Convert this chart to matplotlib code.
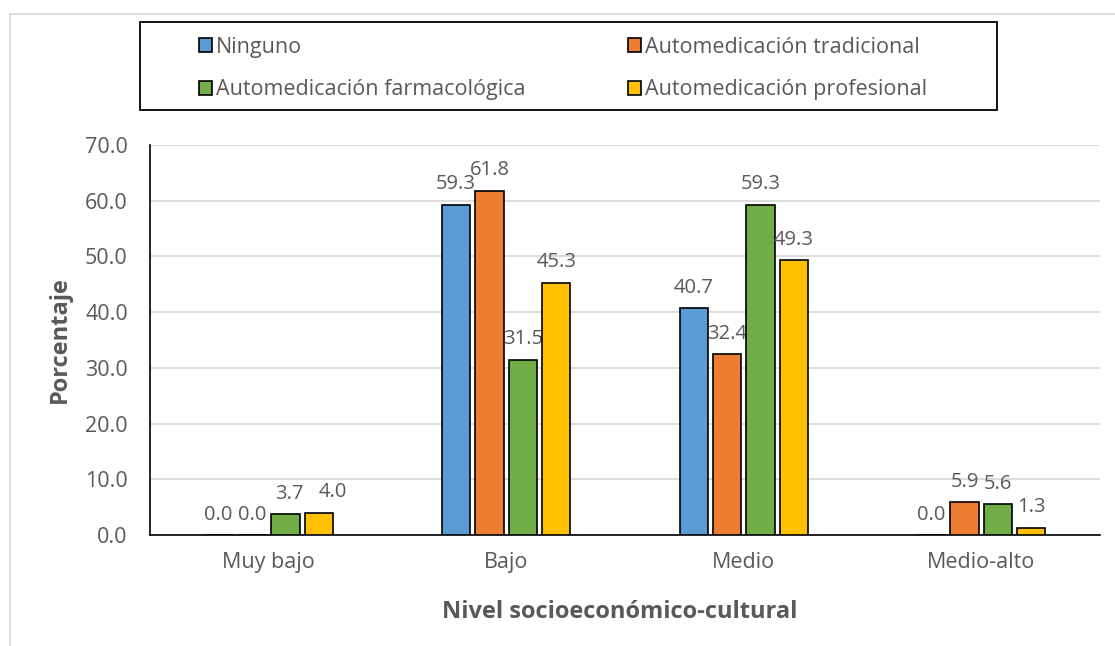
import numpy as np
import matplotlib
matplotlib.use('Agg')
import matplotlib.pyplot as plt
from matplotlib.patches import Rectangle
from matplotlib.lines import Line2D

plt.rcParams['font.family'] = ['Open Sans', 'DejaVu Sans']

# porcentaje por nivel socioeconomico-cultural y tipo de automedicacion
niveles = ['Muy bajo', 'Bajo', 'Medio', 'Medio-alto']
series = ['Ninguno', 'Automedicación tradicional',
          'Automedicación farmacológica', 'Automedicación profesional']
ninguno = [0.0, 59.3, 40.7, 0.0]
tradicional = [0.0, 61.8, 32.4, 5.9]
farmacologica = [3.7, 31.5, 59.3, 5.6]
profesional = [4.0, 45.3, 49.3, 1.3]
yticks = [0, 10, 20, 30, 40, 50, 60, 70]

colores = ['#5B9BD5', '#ED7D31', '#70AD47', '#FFC000']
gris = '#595959'

fig = plt.figure(figsize=(11.15, 6.46), dpi=100)
ax = fig.add_axes([150/1115, 111/646, 950/1115, 390/646])

x = np.arange(len(niveles))
paso = 0.141
ancho = 0.118
datos = [ninguno, tradicional, farmacologica, profesional]

# pequeños desplazamientos de etiquetas (en pixeles) para evitar solapes
ajuste = {(2, 0): 4, (3, 0): 14}

for k, (vals, col) in enumerate(zip(datos, colores)):
    pos = x + (k - 1.5)*paso
    ax.bar(pos, vals, width=ancho, color=col, edgecolor='black', linewidth=1.2, zorder=3)
    for i, v in enumerate(vals):
        dx = ajuste.get((k, i), 0)*0.72
        ax.annotate('%.1f' % v, (pos[i], v), xytext=(dx, 11), textcoords='offset points',
                    ha='center', va='baseline', fontsize=14.5, color=gris)

ax.set_ylim(0, 70)
ax.set_xlim(-0.5, 3.5)
ax.set_yticks(yticks)
ax.set_yticklabels(['%.1f' % t for t in yticks])
ax.set_xticks(x)
ax.set_xticklabels(niveles)
ax.tick_params(axis='both', length=0, labelsize=15.5, colors=gris)
ax.tick_params(axis='y', pad=16)
ax.tick_params(axis='x', pad=12)
ax.yaxis.grid(True, color='#D9D9D9', linewidth=1.3, zorder=0)
ax.set_axisbelow(True)
for s in ['top', 'right']:
    ax.spines[s].set_visible(False)
ax.spines['left'].set_color('black')
ax.spines['bottom'].set_color('black')
ax.spines['left'].set_linewidth(1.2)
ax.spines['bottom'].set_linewidth(1.2)

ax.set_ylabel('Porcentaje', fontsize=17, fontweight='bold', color=gris)
ax.set_xlabel('Nivel socioeconómico-cultural', fontsize=17, fontweight='bold', color=gris)
ax.yaxis.set_label_coords((72-150)/950, 0.5)
ax.xaxis.set_label_coords((620-150)/950, (535-600)/390)

# leyenda en dos columnas dentro de un recuadro
handles = [Rectangle((0, 0), 1, 1, facecolor=c, edgecolor='black', linewidth=1.2) for c in colores]
orden = [0, 2, 1, 3]
leg = fig.legend([handles[i] for i in orden], [series[i] for i in orden], ncol=2,
                 mode='expand', frameon=False, fontsize=15.5, labelcolor=gris,
                 handlelength=0.6, handleheight=0.6, handletextpad=0.2,
                 labelspacing=1.0, borderpad=0, borderaxespad=0,
                 bbox_to_anchor=(199/1115, 1 - 108.5/646, (927-199)/1115, 80/646),
                 loc='center', bbox_transform=fig.transFigure)
fig.patches.append(Rectangle((140/1115, 1 - 110/646), (997-140)/1115, 88/646,
                             transform=fig.transFigure, fill=False,
                             edgecolor='black', linewidth=1.3))

# marco exterior
fig.lines.append(Line2D([10/1115, 10/1115], [0, 1 - 14/646], transform=fig.transFigure,
                        color='#D9D9D9', linewidth=1.3))
fig.lines.append(Line2D([10/1115, 1], [1 - 14/646, 1 - 14/646], transform=fig.transFigure,
                        color='#D9D9D9', linewidth=1.3))

plt.savefig('out.png', dpi=100)
